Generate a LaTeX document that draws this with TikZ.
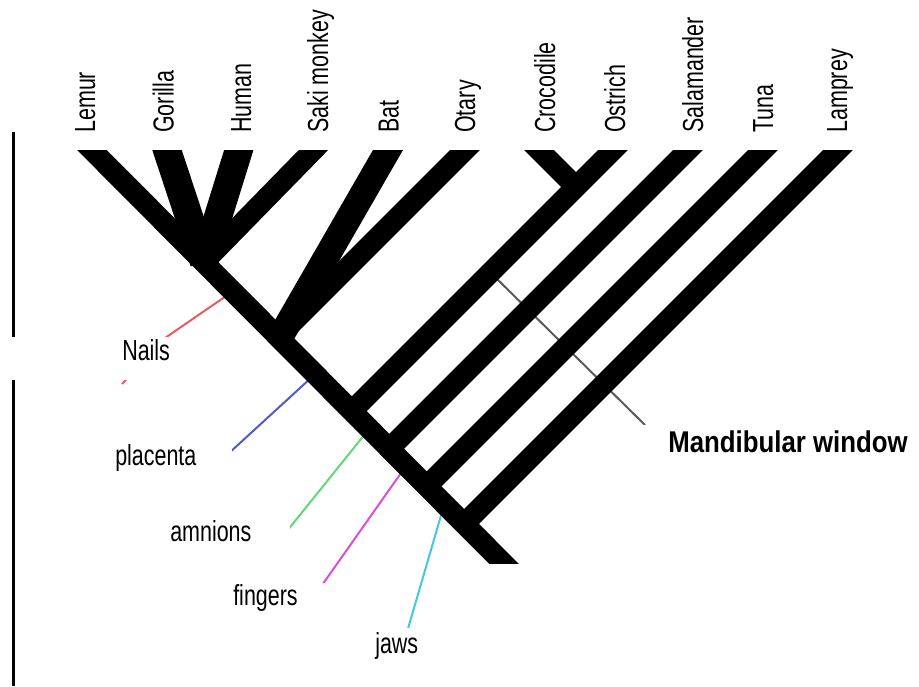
\documentclass[tikz,border=0pt]{standalone}
\usepackage{fontspec}
\setmainfont{Liberation Sans}[FakeStretch=0.74]
\newfontfamily\mwfont{Liberation Sans}[FakeStretch=0.86]
\definecolor{cred}{RGB}{232,90,100}
\definecolor{cblue}{RGB}{80,90,200}
\definecolor{cgreen}{RGB}{100,215,120}
\definecolor{cmag}{RGB}{215,80,215}
\definecolor{ccyan}{RGB}{70,200,220}
\definecolor{cgrey}{RGB}{90,90,90}
\begin{document}
\begin{tikzpicture}[x=0.75pt,y=-0.75pt,
  bar/.style={line width=15.75pt,line cap=butt,black},
  widebar/.style={line width=#1,line cap=butt,black},
  lbl/.style={font=\fontsize{21.75}{26}\selectfont,inner sep=0pt},
  taxon/.style={lbl,rotate=90,anchor=base west},
  trait/.style={lbl,anchor=base west},
  mask/.style={fill=white,draw=none},
  link/.style={line width=1.5pt}]
\useasboundingbox (0,0) rectangle (919,686);

% left rule
\coordinate (ruleTop) at (13.5,132);
\coordinate (ruleBot) at (13.5,686);
\draw[line width=2.25pt] (ruleTop) -- (ruleBot);

% trunk and branch points
\coordinate (trunkTop) at (72,130);
\coordinate (trunkBot) at (523,583);
\coordinate (jPrim) at (204,262);
\coordinate (jBat) at (282,334);
\coordinate (jOtary) at (278,337);
\coordinate (jOstrich) at (352,411);
\coordinate (jSal) at (389.5,448.5);
\coordinate (jTuna) at (427,486);
\coordinate (jLamprey) at (464.5,523.5);
\coordinate (jCroc) at (576,187);

\coordinate (tGorilla) at (160.4,130);
\coordinate (tHuman) at (245,130);
\coordinate (tSaki) at (333,130);
\coordinate (tBat) at (399.5,130);
\coordinate (tOtary) at (485,130);
\coordinate (tCroc) at (519,130);
\coordinate (tOstrich) at (633,130);
\coordinate (tSal) at (708,130);
\coordinate (tTuna) at (783,130);
\coordinate (tLamprey) at (858,130);

% character lines (under the bars)
\coordinate (mwA) at (493,275);
\coordinate (mwB) at (645,425);
\draw[cgrey,line width=1.5pt] (mwA) -- (mwB);

\coordinate (nailsA) at (229,294);
\coordinate (nailsK) at (165,338);
\coordinate (nailsB) at (122,384);
\draw[cred,link] (nailsA) -- (nailsK) -- (nailsB);

\coordinate (placA) at (312,377);
\coordinate (placB) at (228,454);
\draw[cblue,link] (placA) -- (placB);

\coordinate (amnA) at (369,429);
\coordinate (amnB) at (287,531);
\draw[cgreen,link] (amnA) -- (amnB);

\coordinate (fingA) at (401,473);
\coordinate (fingB) at (320,588);
\draw[cmag,link] (fingA) -- (fingB);

\coordinate (jawsA) at (442,512);
\coordinate (jawsB) at (407,632);
\draw[ccyan,link] (jawsA) -- (jawsB);

% the tree
\begin{scope}
\clip (0,150) rectangle (919,563);
\draw[bar] (trunkTop) -- (trunkBot);
\draw[widebar=21pt] (tGorilla) -- (jPrim);
\draw[widebar=21pt] (tHuman) -- (jPrim);
\draw[bar] (tSaki) -- (jPrim);
\draw[widebar=19.5pt] (tBat) -- (jBat);
\draw[bar] (tOtary) -- (jOtary);
\draw[bar] (tCroc) -- (jCroc);
\draw[bar] (tOstrich) -- (jOstrich);
\draw[bar] (tSal) -- (jSal);
\draw[bar] (tTuna) -- (jTuna);
\draw[bar] (tLamprey) -- (jLamprey);
\end{scope}

% white label backgrounds
\fill[mask] (10,337) rectangle (183,380);
\fill[mask] (60,441) rectangle (232,487);
\fill[mask] (120,517) rectangle (290,565);
\fill[mask] (182,583) rectangle (330,632);
\fill[mask] (370,628) rectangle (525,686);
\fill[mask] (640,425) rectangle (905,520);

% taxa
\node[taxon] (lemur) at (95,133) {Lemur};
\node[taxon] (gorilla) at (173.5,133) {Gorilla};
\node[taxon] (human) at (251,133) {Human};
\node[taxon] (saki) at (328,133) {Saki monkey};
\node[taxon] (bat) at (398.5,133) {Bat};
\node[taxon] (otary) at (475,133) {Otary};
\node[taxon] (croc) at (555,133) {Crocodile};
\node[taxon] (ostrich) at (625,133) {Ostrich};
\node[taxon] (sal) at (703,133) {Salamander};
\node[taxon] (tuna) at (773,133) {Tuna};
\node[taxon] (lamprey) at (847,133) {Lamprey};

% characters
\node[trait] (nails) at (122,360) {Nails};
\node[trait] (placenta) at (115,465) {placenta};
\node[trait] (amnions) at (170,541) {amnions};
\node[trait] (fingers) at (233,605) {fingers};
\node[trait] (jaws) at (375,653) {jaws};
\node[inner sep=0pt,anchor=base west,font=\mwfont\bfseries\fontsize{22.5}{27}\selectfont] (mw) at (668,452) {Mandibular window};
\end{tikzpicture}
\end{document}
